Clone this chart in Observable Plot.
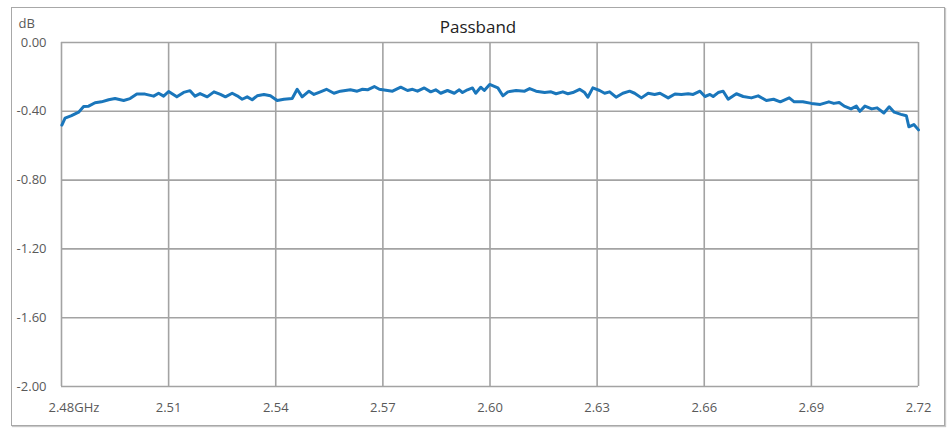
<!DOCTYPE html>
<html>
<head>
<meta charset="utf-8">
<script src="https://cdn.jsdelivr.net/npm/d3@7"></script>
<script src="https://cdn.jsdelivr.net/npm/@observablehq/plot@0.6"></script>
<style>
  html, body { margin: 0; padding: 0; background: #fff; }
  #wrap { position: relative; width: 947px; height: 432px; }
  #box { position: absolute; left: 11px; top: 7px; width: 932px; height: 417px;
         border: 1px solid #a8a8a8; box-shadow: 1px 1px 1px #c8c8c8; pointer-events: none; }
</style>
</head>
<body>
<div id="wrap"><div id="box"></div></div>
<script>
const title = "Passband";
const yLabel = "dB";
const xTicks = [2.48, 2.51, 2.54, 2.57, 2.60, 2.63, 2.66, 2.69, 2.72];
const yTicks = [0, -0.4, -0.8, -1.2, -1.6, -2.0];

const freqGHz = [
  2.4801, 2.4810, 2.4828, 2.4848, 2.4862, 2.4876, 2.4894, 2.4912, 2.4932, 2.4950,
  2.4974, 2.4992, 2.5011, 2.5034, 2.5058, 2.5072, 2.5086, 2.5100, 2.5123, 2.5142,
  2.5160, 2.5174, 2.5188, 2.5208, 2.5227, 2.5245, 2.5259, 2.5278, 2.5292, 2.5306,
  2.5320, 2.5334, 2.5348, 2.5367, 2.5385, 2.5404, 2.5423, 2.5446, 2.5460, 2.5474,
  2.5493, 2.5507, 2.5525, 2.5542, 2.5563, 2.5581, 2.5609, 2.5628, 2.5643, 2.5657,
  2.5676, 2.5690, 2.5713, 2.5727, 2.5750, 2.5769, 2.5783, 2.5797, 2.5816, 2.5834,
  2.5848, 2.5862, 2.5881, 2.5900, 2.5914, 2.5923, 2.5937, 2.5951, 2.5960, 2.5974,
  2.5984, 2.5999, 2.6022, 2.6036, 2.6050, 2.6073, 2.6097, 2.6111, 2.6129, 2.6153,
  2.6171, 2.6185, 2.6204, 2.6218, 2.6232, 2.6251, 2.6265, 2.6274, 2.6288, 2.6307,
  2.6321, 2.6335, 2.6353, 2.6372, 2.6391, 2.6405, 2.6424, 2.6443, 2.6461, 2.6476,
  2.6499, 2.6518, 2.6536, 2.6555, 2.6569, 2.6588, 2.6602, 2.6616, 2.6625, 2.6639,
  2.6653, 2.6667, 2.6690, 2.6709, 2.6732, 2.6751, 2.6774, 2.6794, 2.6813, 2.6838,
  2.6852, 2.6876, 2.6900, 2.6925, 2.6949, 2.6963, 2.6978, 2.6992, 2.7011, 2.7026,
  2.7036, 2.7050, 2.7069, 2.7084, 2.7103, 2.7118, 2.7132, 2.7151, 2.7166, 2.7173,
  2.7187, 2.7200
];
const lossDb = [
  -0.480, -0.440, -0.425, -0.405, -0.372, -0.370, -0.350, -0.345, -0.333, -0.326,
  -0.337, -0.326, -0.300, -0.300, -0.312, -0.295, -0.312, -0.285, -0.316, -0.290,
  -0.280, -0.312, -0.297, -0.316, -0.287, -0.302, -0.316, -0.295, -0.310, -0.330,
  -0.316, -0.333, -0.310, -0.302, -0.310, -0.337, -0.330, -0.326, -0.272, -0.316,
  -0.283, -0.302, -0.287, -0.272, -0.295, -0.283, -0.275, -0.283, -0.272, -0.275,
  -0.256, -0.272, -0.279, -0.283, -0.260, -0.279, -0.272, -0.283, -0.264, -0.287,
  -0.275, -0.295, -0.279, -0.295, -0.275, -0.291, -0.275, -0.264, -0.295, -0.260,
  -0.279, -0.244, -0.264, -0.310, -0.287, -0.279, -0.283, -0.268, -0.283, -0.291,
  -0.287, -0.298, -0.287, -0.298, -0.291, -0.272, -0.291, -0.318, -0.264, -0.279,
  -0.295, -0.287, -0.318, -0.295, -0.283, -0.295, -0.322, -0.295, -0.302, -0.295,
  -0.322, -0.299, -0.302, -0.298, -0.302, -0.283, -0.314, -0.302, -0.314, -0.291,
  -0.283, -0.330, -0.298, -0.314, -0.322, -0.310, -0.337, -0.330, -0.345, -0.322,
  -0.345, -0.345, -0.354, -0.360, -0.345, -0.354, -0.349, -0.370, -0.386, -0.370,
  -0.400, -0.370, -0.386, -0.380, -0.410, -0.374, -0.405, -0.418, -0.426, -0.490,
  -0.477, -0.508
];

const data = freqGHz.map((f, i) => ({f, v: lossDb[i]}));
const gridColor = "#a3a3a3";
const textColor = "#595959";

const chart = Plot.plot({
  width: 947,
  height: 432,
  marginLeft: 61,
  marginRight: 29,
  marginTop: 42,
  marginBottom: 46,
  style: {fontFamily: "'Open Sans', sans-serif", fontSize: "13px", background: "transparent"},
  x: {domain: [2.48, 2.72]},
  y: {domain: [-2, 0]},
  marks: [
    Plot.ruleX(xTicks, {stroke: gridColor, strokeWidth: 1.6}),
    Plot.ruleY(yTicks, {stroke: gridColor, strokeWidth: 1.6}),
    Plot.line(data, {x: "f", y: "v", stroke: "#1a76bb", strokeWidth: 3, strokeLinejoin: "round"}),
    Plot.axisY(yTicks, {tickSize: 0, tickPadding: 15, tickFormat: d => d.toFixed(2), label: null, fill: textColor, fontSize: 13}),
    Plot.axisX(xTicks.slice(1), {tickSize: 0, tickPadding: 16, tickFormat: d => d.toFixed(2), label: null, fill: textColor, fontSize: 13}),
    Plot.axisX(xTicks.slice(0, 1), {tickSize: 0, tickPadding: 16, tickFormat: d => d.toFixed(2) + "GHz", textAnchor: "start", dx: -13, label: null, fill: textColor, fontSize: 13}),
    Plot.text([title], {text: d => d, frameAnchor: "top", lineAnchor: "middle", dx: -12, dy: -15, fontSize: 17, fill: "#222"}),
    Plot.text([yLabel], {text: d => d, frameAnchor: "top-left", lineAnchor: "middle", textAnchor: "start", dx: -43, dy: -19, fontSize: 13, fill: textColor})
  ]
});
document.getElementById("wrap").prepend(chart);
</script>
</body>
</html>
